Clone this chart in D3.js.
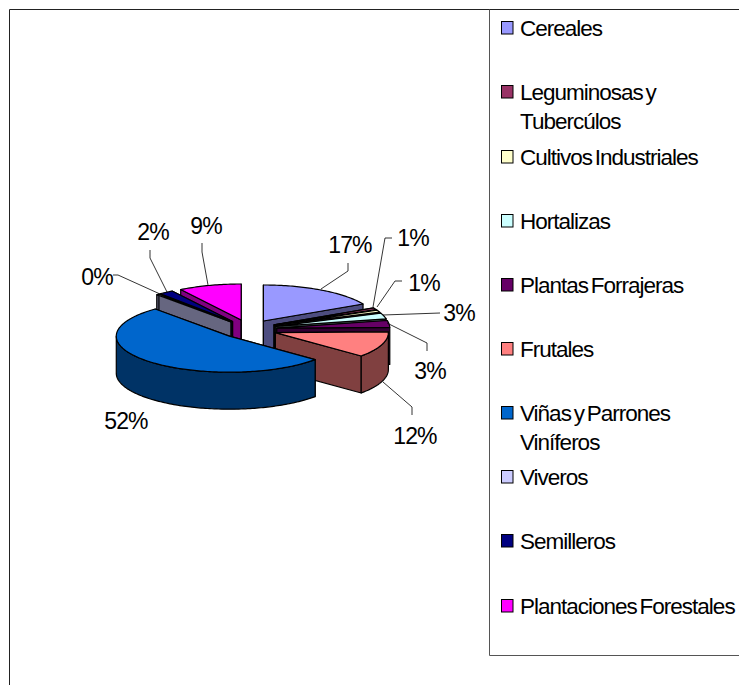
<!DOCTYPE html>
<html><head><meta charset="utf-8">
<script src="https://cdn.jsdelivr.net/npm/d3@7/dist/d3.min.js"></script>
<style>html,body{margin:0;padding:0;background:#fff}svg{display:block}
text{font-family:"Liberation Sans",Arial,sans-serif;font-size:22.5px;letter-spacing:-1px;word-spacing:-2.5px;fill:#000}
.val{font-size:23px;letter-spacing:-0.9px}</style>
</head><body><svg id="c" width="739" height="685"></svg>
<script>
const categories=["Cereales","Leguminosas y Tubercúlos","Cultivos Industriales","Hortalizas","Plantas Forrajeras","Frutales","Viñas y Parrones Viníferos","Viveros","Semilleros","Plantaciones Forestales"];
const values=[17.2,0.8,1.0,2.6,3.1,11.6,52.4,0.4,2.0,9.0];
const colors=["#9999FF","#993366","#FFFFCC","#CCFFFF","#660066","#FF8080","#0066CC","#CCCCFF","#000080","#FF00FF"];
const legendLines=[["Cereales"],["Leguminosas y","Tubercúlos"],["Cultivos Industriales"],["Hortalizas"],["Plantas Forrajeras"],["Frutales"],["Viñas y Parrones","Viníferos"],["Viveros"],["Semilleros"],["Plantaciones Forestales"]];

// layout (separate from the data)
const legendY=[28,92,157,221,285,349,413,477,541,606];
const labelPos=[[350,245],[413,238],[424,283],[459,313],[430,371],[415,436],[126,421],[97,277],[153,232],[206,226]];
const leaders=[
 [[348,263],[348,271],[321,289]],
 [[392,238],[385,238],[373,307]],
 [[402,281],[395,281],[377,307]],
 [[440,313],[383,315]],
 [[427,351],[427,343],[387,323]],
 [[412,415],[412,407],[383,382]],
 [],
 [[113,275],[118,275],[160,294]],
 [[150,250],[150,258],[167,292]],
 [[202,243],[202,252],[208,285]]
];
const cx=249,cy=329.3,rx=113,ry=36,depth=37,explodeX=28,explodeY=9.7;

const svg=d3.select("#c");
// frame
const frame=svg.append("g").attr("fill","none").attr("stroke","#222").attr("stroke-width",1);
frame.append("path").attr("d","M9.5 685V9.5H739");
frame.append("path").attr("d","M489.5 9.5V655.5H739").attr("stroke","#555");

const pie=d3.pie().value(d=>d).sort(null).startAngle(0).endAngle(2*Math.PI);
const arcs=pie(values).map((a,i)=>({...a,i,mid:(a.startAngle+a.endAngle)/2}));
const line=d3.line().x(d=>d[0]).y(d=>d[1]);
const px=(c,a)=>[c[0]+rx*Math.sin(a),c[1]-ry*Math.cos(a)];
const down=p=>[p[0],p[1]+depth];
const samples=(a,b)=>{const n=Math.max(2,Math.ceil((b-a)/0.02));return d3.range(n+1).map(k=>a+(b-a)*k/n);};
const dark=c=>{const r=d3.rgb(c);return d3.rgb(r.r/2,r.g/2,r.b/2).formatHex();};

const g=svg.append("g").attr("stroke","#000").attr("stroke-width",1.2).attr("stroke-linejoin","round");
arcs.slice().sort((p,q)=>Math.cos(q.mid)-Math.cos(p.mid)).forEach(s=>{
  const col=colors[s.i],side=dark(col);
  const c=[cx+explodeX*Math.sin(s.mid),cy-explodeY*Math.cos(s.mid)];
  const A=px(c,s.startAngle),B=px(c,s.endAngle);
  [A,B].forEach(P=>g.append("path").attr("fill",side).attr("d",line([c,P,down(P),down(c)])+"Z"));
  const a0=Math.max(s.startAngle,Math.PI/2),a1=Math.min(s.endAngle,3*Math.PI/2);
  if(a1>a0){
    const top=samples(a0,a1).map(a=>px(c,a));
    g.append("path").attr("fill",side).attr("d",line(top.concat(top.slice().reverse().map(down)))+"Z");
  }
  const rim=samples(s.startAngle,s.endAngle).map(a=>px(c,a));
  g.append("path").attr("fill",col).attr("d",line([c].concat(rim))+"Z");
});

// leaders and value labels
const lg=svg.append("g").attr("fill","none").attr("stroke","#000").attr("stroke-width",0.8);
leaders.forEach(l=>{if(l.length)lg.append("path").attr("d",line(l));});
svg.append("g").selectAll("text").data(values).join("text").attr("class","val")
  .attr("text-anchor","middle").attr("dominant-baseline","central")
  .attr("x",(d,i)=>labelPos[i][0]).attr("y",(d,i)=>labelPos[i][1])
  .text(d=>Math.round(d)+"%");

// legend
const leg=svg.append("g");
categories.forEach((n,i)=>{
  leg.append("rect").attr("x",501.5).attr("y",legendY[i]-6.5).attr("width",11.5).attr("height",12.5)
    .attr("fill",colors[i]).attr("stroke","#000").attr("stroke-width",1);
  legendLines[i].forEach((t,k)=>leg.append("text").attr("x",520).attr("y",legendY[i]+k*29)
    .attr("dominant-baseline","central").text(t));
});
</script></body></html>
